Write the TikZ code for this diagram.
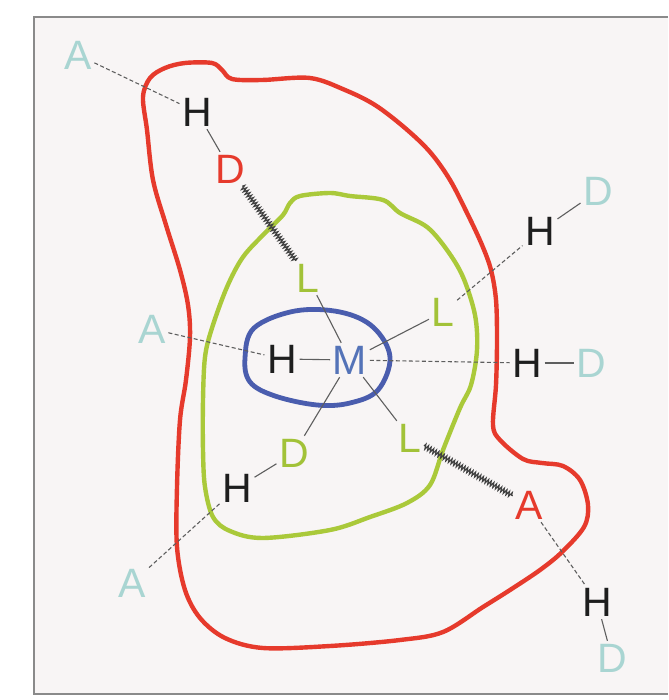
\documentclass[tikz,border=0pt]{standalone}
\usepackage{fontspec}
\setmainfont{Liberation Sans}
\usetikzlibrary{decorations.pathmorphing}
\definecolor{cyanl}{HTML}{A9D5D2}
\definecolor{redc}{HTML}{E63A2C}
\definecolor{greenc}{HTML}{AAC93A}
\definecolor{greenl}{HTML}{A2C238}
\definecolor{bluec}{HTML}{4A5DAE}
\definecolor{bluem}{HTML}{5473B8}
\definecolor{linec}{HTML}{5E5E5E}
\definecolor{bgc}{HTML}{F8F5F5}
\definecolor{framec}{HTML}{8A8A8A}
\definecolor{blk}{HTML}{1E1E1E}
\begin{document}
\begin{tikzpicture}[x=1pt,y=-1pt,
  lab/.style={font=\fontsize{41}{41}\selectfont, text height=29pt, text depth=0pt, inner sep=2.5pt},
  solidc/.style={draw=linec, line width=1.1pt},
  dashc/.style={draw=linec, line width=1.1pt, dash pattern=on 4pt off 2.5pt},
  zig/.style={draw=blk!85, line width=1.2pt, decorate, decoration={zigzag, segment length=3pt, amplitude=2.4pt}},
  contour/.style={line width=4.4pt, line join=round}]
\useasboundingbox (0,0) rectangle (668,700);
\fill[white] (0,0) rectangle (668,700);
\fill[bgc] (34,17) rectangle (668,694);
\draw[framec, line width=1.3pt] (668,17) -- (34,17) -- (34,694) -- (668,694);

% contours
\draw[contour, redc] plot[smooth cycle, tension=0.55] coordinates {
 (143,97) (150,78) (165,68) (185,63) (212,63) (222,70) (232,79) (262,80) (310,78)
 (345,90) (375,105) (405,128) (430,152) (450,180) (468,215) (482,245) (491,270)
 (496,300) (497,340) (496,385) (493,425) (500,440) (523,459) (542,463) (563,466)
 (580,480) (588,505) (584,527) (562,552) (540,570) (510,590) (483,607) (443,632)
 (400,640) (330,646) (263,648) (225,638) (200,618) (185,590) (177,547) (177,487)
 (180,420) (186,380) (190,337) (188,305) (180,270) (166,225) (153,180) (147,130)};
\draw[contour, greenc] plot[smooth cycle, tension=0.55] coordinates {
 (283,215) (290,203) (300,196) (330,193) (350,196) (383,200) (400,213) (427,227)
 (447,250) (463,277) (475,315) (477,350) (471,385) (460,408) (443,450) (430,485)
 (407,503) (370,517) (330,530) (263,538) (230,531) (213,517) (205,487) (203,450)
 (203,400) (205,357) (212,328) (227,287) (243,257) (265,233)};
\draw[contour, bluec, line width=4.8pt] plot[smooth cycle, tension=0.6] coordinates {
 (245,358) (254,328) (295,311) (340,312) (373,327) (390,357) (378,390) (350,403)
 (317,405) (275,396) (250,382)};

% nodes
\node[lab, cyanl] (A1) at (78,55) {A};
\node[lab, blk] (H1) at (197,112) {H};
\node[lab, redc] (D1) at (230,169) {D};
\node[lab, greenl] (L1) at (308,278) {L};
\node[lab, bluem] (M) at (350,360) {M};
\node[lab, blk] (H2) at (282,359) {H};
\node[lab, cyanl] (A2) at (152,329) {A};
\node[lab, greenl] (L2) at (443,312) {L};
\node[lab, blk] (H3) at (540,231) {H};
\node[lab, cyanl] (D3) at (598,191) {D};
\node[lab, blk] (H4) at (527,363) {H};
\node[lab, cyanl] (D4) at (591,363) {D};
\node[lab, greenl] (D5) at (294,453) {D};
\node[lab, blk] (H5) at (237,488) {H};
\node[lab, cyanl] (A5) at (132,583) {A};
\node[lab, greenl] (L6) at (410,438) {L};
\node[lab, redc] (A6) at (529,505) {A};
\node[lab, blk] (H6) at (597,602) {H};
\node[lab, cyanl] (D6) at (612,658) {D};

% connectors
\draw[dashc] (A1) -- (H1);
\draw[solidc] (H1) -- (D1);
\draw[zig] (D1) -- (L1);
\draw[solidc] (L1) -- (M);
\draw[dashc] (A2) -- (H2);
\draw[solidc] (H2) -- (M);
\draw[dashc] (M) -- (H4);
\draw[solidc] (H4) -- (D4);
\draw[solidc] (M) -- (L2);
\draw[dashc] (L2) -- (H3);
\draw[solidc] (H3) -- (D3);
\draw[solidc] (M) -- (D5);
\draw[solidc] (D5) -- (H5);
\draw[dashc] (H5) -- (A5);
\draw[solidc] (M) -- (L6);
\draw[zig] (L6) -- (A6);
\draw[dashc] (A6) -- (H6);
\draw[solidc] (H6) -- (D6);
\end{tikzpicture}
\end{document}
